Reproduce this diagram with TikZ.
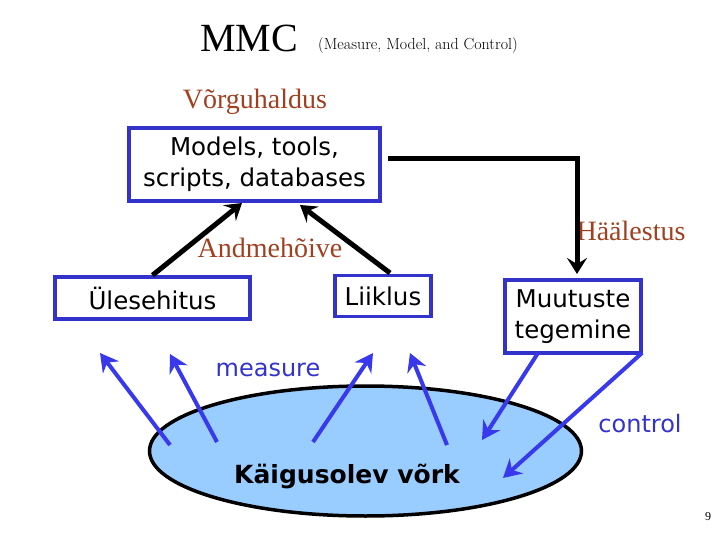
\documentclass[tikz,border=0pt]{standalone}
\usepackage{fontspec}
\setmainfont{Liberation Serif}
\newfontfamily\sansf{DejaVu Sans}
\newfontfamily\lmfont{Latin Modern Roman}
\usetikzlibrary{shapes.geometric,arrows.meta}
\definecolor{boxblue}{RGB}{51,51,204}
\definecolor{arrblue}{RGB}{56,56,236}
\definecolor{netfill}{RGB}{153,204,255}
\definecolor{brownred}{RGB}{160,64,32}
\tikzset{
  bluebox/.style={draw=boxblue, line width=3.5pt, fill=white, inner sep=0pt,
    font=\sansf\fontsize{24.5}{31}\selectfont, align=center},
  browntext/.style={text=brownred, font=\fontsize{28}{30}\selectfont, inner sep=0pt},
  bluetext/.style={text=boxblue, font=\sansf\fontsize{24}{28}\selectfont, inner sep=0pt},
  blackarrow/.style={line width=5pt, -{Stealth[length=16pt,width=20pt,inset=6pt]}},
  bluearrow/.style={draw=arrblue, line width=4pt, -{Stealth[length=18pt,width=20pt,inset=6pt]}},
}
\begin{document}
\begin{tikzpicture}[x=1pt,y=-1pt]
\useasboundingbox (0,0) rectangle (720,540);
% titles
\node[font=\fontsize{40}{44}\selectfont, inner sep=0pt] (mmc) at (249,38) {MMC};
\node[font=\lmfont\fontsize{16}{18}\selectfont, inner sep=0pt] (sub) at (418,46) {(Measure, Model, and Control)};
\node[browntext] (vorg) at (255,102) {Võrguhaldus};
% boxes
\node[bluebox, minimum width=251pt, minimum height=73pt] (models) at (254.5,164.5) {Models, tools,\\scripts, databases};
\node[bluebox, minimum width=195pt, minimum height=42pt] (ule) at (152.5,298) {Ülesehitus};
\node[bluebox, minimum width=96pt, minimum height=41pt] (lii) at (383,296) {Liiklus};
\node[bluebox, minimum width=136pt, minimum height=73pt] (muu) at (573,316.5) {Muutuste\\tegemine};
% labels
\node[browntext] (andm) at (270,248) {Andmehõive};
\node[browntext] (haal) at (631,231) {Häälestus};
\node[bluetext] (meas) at (268,370) {measure};
\node[bluetext] (ctrl) at (640,424) {control};
\node[font=\fontsize{12}{14}\selectfont, inner sep=0pt] (pg) at (708,517) {9};
% network ellipse
\node[ellipse, draw=black, line width=3.5pt, fill=netfill, minimum width=432pt, minimum height=130pt, inner sep=0pt] (net) at (365.5,451) {};
\node[font=\sansf\bfseries\fontsize{25}{28}\selectfont, inner sep=0pt] (netlbl) at (347,476) {Käigusolev võrk};
% coordinates
\coordinate (t1) at (242,203);
\coordinate (t2) at (300,205);
\coordinate (s2) at (390,273);
\coordinate (h1) at (388,159);
\coordinate (hv) at (577,159);
\coordinate (ht) at (577,274);
\coordinate (m1s) at (170,445); \coordinate (m1t) at (100,353);
\coordinate (m2s) at (217,442); \coordinate (m2t) at (170,354);
\coordinate (m3s) at (313,442); \coordinate (m3t) at (373,353);
\coordinate (m4s) at (447,445); \coordinate (m4t) at (410,353);
\coordinate (c1s) at (538,353); \coordinate (c1t) at (482,440);
\coordinate (c2s) at (642,353); \coordinate (c2t) at (503,478);
% black connectors
\draw[blackarrow] (ule.north) -- (t1);
\draw[blackarrow] (s2) -- (t2);
\draw[blackarrow] (h1) -- (hv) -- (ht);
% blue arrows
\draw[bluearrow] (m1s) -- (m1t);
\draw[bluearrow] (m2s) -- (m2t);
\draw[bluearrow] (m3s) -- (m3t);
\draw[bluearrow] (m4s) -- (m4t);
\draw[bluearrow] (c1s) -- (c1t);
\draw[bluearrow] (c2s) -- (c2t);
\end{tikzpicture}
\end{document}
